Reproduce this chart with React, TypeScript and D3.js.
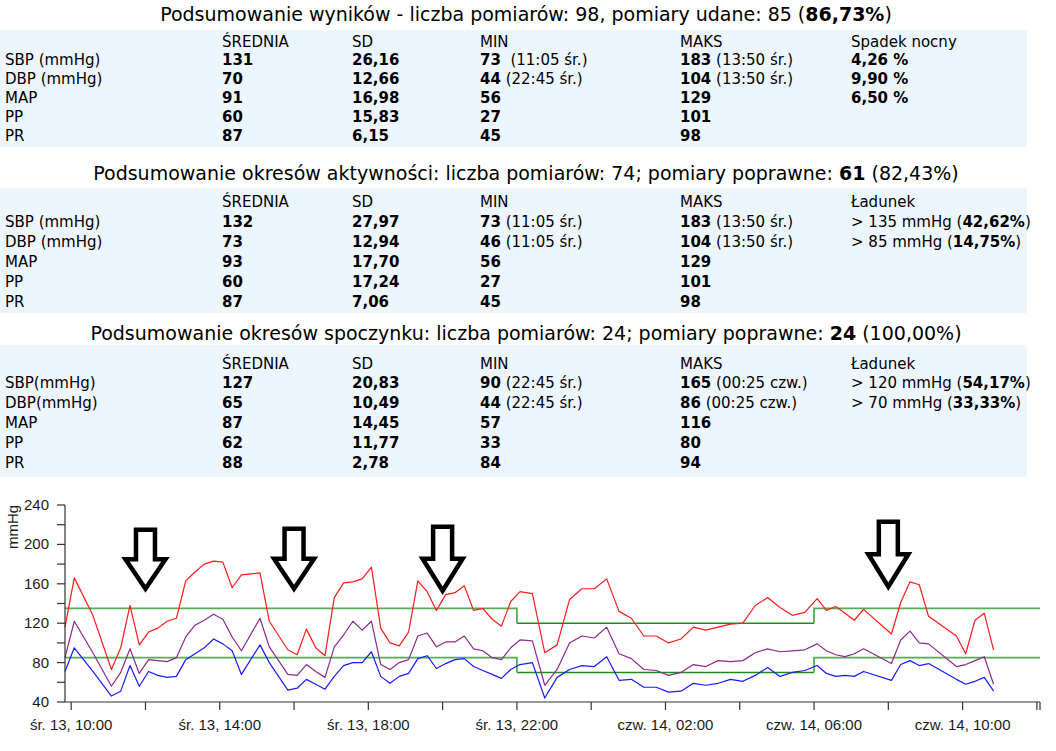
import React from "react";
import * as d3 from "d3";

// ---------- summary tables ----------
const title1 = ["Podsumowanie wyników - liczba pomiarów: 98, pomiary udane: 85 (", "86,73%", ")"];
const title2 = ["Podsumowanie okresów aktywności: liczba pomiarów: 74; pomiary poprawne: ", "61", " (82,43%)"];
const title3 = ["Podsumowanie okresów spoczynku: liczba pomiarów: 24; pomiary poprawne: ", "24", " (100,00%)"];

const header1 = ["", "ŚREDNIA", "SD", "MIN", "MAKS", "Spadek nocny"];
const header2 = ["", "ŚREDNIA", "SD", "MIN", "MAKS", "Ładunek"];

const rows1 = [
  ["SBP (mmHg)", "**131**", "**26,16**", "**73**  (11:05 śr.)", "**183** (13:50 śr.)", "**4,26 %**"],
  ["DBP (mmHg)", "**70**", "**12,66**", "**44** (22:45 śr.)", "**104** (13:50 śr.)", "**9,90 %**"],
  ["MAP", "**91**", "**16,98**", "**56**", "**129**", "**6,50 %**"],
  ["PP", "**60**", "**15,83**", "**27**", "**101**", ""],
  ["PR", "**87**", "**6,15**", "**45**", "**98**", ""],
];
const rows2 = [
  ["SBP (mmHg)", "**132**", "**27,97**", "**73** (11:05 śr.)", "**183** (13:50 śr.)", "> 135 mmHg (**42,62%**)"],
  ["DBP (mmHg)", "**73**", "**12,94**", "**46** (11:05 śr.)", "**104** (13:50 śr.)", "> 85 mmHg (**14,75%**)"],
  ["MAP", "**93**", "**17,70**", "**56**", "**129**", ""],
  ["PP", "**60**", "**17,24**", "**27**", "**101**", ""],
  ["PR", "**87**", "**7,06**", "**45**", "**98**", ""],
];
const rows3 = [
  ["SBP(mmHg)", "**127**", "**20,83**", "**90** (22:45 śr.)", "**165** (00:25 czw.)", "> 120 mmHg (**54,17%**)"],
  ["DBP(mmHg)", "**65**", "**10,49**", "**44** (22:45 śr.)", "**86** (00:25 czw.)", "> 70 mmHg (**33,33%**)"],
  ["MAP", "**87**", "**14,45**", "**57**", "**116**", ""],
  ["PP", "**62**", "**11,77**", "**33**", "**80**", ""],
  ["PR", "**88**", "**2,78**", "**84**", "**94**", ""],
];

// ---------- measurements ----------
const measurementTimes = [
  "2018-06-13 09:50", "2018-06-13 10:05", "2018-06-13 10:35", "2018-06-13 11:05", "2018-06-13 11:20",
  "2018-06-13 11:35", "2018-06-13 11:50", "2018-06-13 12:05", "2018-06-13 12:20", "2018-06-13 12:35",
  "2018-06-13 12:50", "2018-06-13 13:05", "2018-06-13 13:20", "2018-06-13 13:35", "2018-06-13 13:50",
  "2018-06-13 14:05", "2018-06-13 14:20", "2018-06-13 14:35", "2018-06-13 15:05", "2018-06-13 15:20",
  "2018-06-13 15:50", "2018-06-13 16:05", "2018-06-13 16:20", "2018-06-13 16:35", "2018-06-13 16:50",
  "2018-06-13 17:05", "2018-06-13 17:20", "2018-06-13 17:35", "2018-06-13 17:50", "2018-06-13 18:05",
  "2018-06-13 18:20", "2018-06-13 18:35", "2018-06-13 18:50", "2018-06-13 19:05", "2018-06-13 19:20",
  "2018-06-13 19:35", "2018-06-13 19:50", "2018-06-13 20:05", "2018-06-13 20:20", "2018-06-13 20:35",
  "2018-06-13 20:50", "2018-06-13 21:05", "2018-06-13 21:20", "2018-06-13 21:35", "2018-06-13 21:50",
  "2018-06-13 22:05", "2018-06-13 22:25", "2018-06-13 22:45", "2018-06-13 23:05", "2018-06-13 23:25",
  "2018-06-13 23:45", "2018-06-14 00:05", "2018-06-14 00:25", "2018-06-14 00:45", "2018-06-14 01:05",
  "2018-06-14 01:25", "2018-06-14 01:45", "2018-06-14 02:05", "2018-06-14 02:25", "2018-06-14 02:45",
  "2018-06-14 03:05", "2018-06-14 03:25", "2018-06-14 03:45", "2018-06-14 04:05", "2018-06-14 04:25",
  "2018-06-14 04:45", "2018-06-14 05:05", "2018-06-14 05:25", "2018-06-14 05:45",
  "2018-06-14 06:05", "2018-06-14 06:20", "2018-06-14 06:35", "2018-06-14 06:50", "2018-06-14 07:05",
  "2018-06-14 07:20", "2018-06-14 08:05", "2018-06-14 08:20", "2018-06-14 08:35", "2018-06-14 08:50",
  "2018-06-14 09:05", "2018-06-14 09:50", "2018-06-14 10:05", "2018-06-14 10:20", "2018-06-14 10:35",
  "2018-06-14 10:50",
];
const sbpValues = [
  116, 166, 128, 73, 95, 138, 98, 111, 115, 122, 125, 163, 172, 180, 183, 182, 156, 169, 171, 122,
  93, 88, 114, 95, 87, 146, 161, 162, 165, 177, 115, 100, 97, 111, 163, 152, 133, 149, 151, 158,
  133, 135, 124, 117, 142,
  152, 150, 90, 98, 144, 155, 155, 165, 132, 125, 107, 107, 100, 104, 116, 113, 116, 119, 120, 138,
  146, 136, 128, 131,
  145, 133, 137, 130, 123, 134, 109, 141, 162, 159, 127, 107, 89, 123, 130, 93,
];
const mapValues = [
  85, 122, 90, 56, 70, 94, 69, 83, 82, 81, 85, 106, 118, 123, 129, 124, 106, 92, 125, 96,
  68, 67, 78, 71, 65, 96, 108, 122, 113, 122, 78, 73, 80, 83, 107, 110, 96, 101, 101, 107,
  94, 92, 85, 83, 95,
  103, 102, 57, 73, 100, 107, 105, 116, 89, 84, 73, 72, 67, 70, 78, 76, 82, 81, 82, 90,
  94, 91, 92, 93,
  99, 92, 88, 86, 89, 94, 79, 103, 112, 100, 99, 76, 78, 82, 86, 58,
];
const dbpValues = [
  71, 95, 71, 46, 51, 77, 56, 71, 67, 65, 66, 83, 89, 95, 104, 99, 92, 68, 98, 80,
  52, 54, 63, 58, 53, 66, 77, 80, 80, 91, 66, 59, 66, 69, 84, 87, 74, 79, 83, 84,
  76, 72, 68, 64, 73,
  78, 80, 44, 65, 73, 77, 76, 86, 62, 63, 55, 55, 50, 51, 59, 57, 59, 63, 61, 67,
  75, 66, 70, 72,
  77, 69, 66, 67, 66, 71, 62, 78, 82, 77, 79, 63, 58, 61, 65, 51,
];

// ---------- limits (day / night) ----------
const periodStarts = ["2018-06-13 09:50", "2018-06-13 22:00", "2018-06-14 06:00"];
const periodEnds = ["2018-06-13 22:00", "2018-06-14 06:00", "2018-06-14 12:05"];
const periodIsNight = [false, true, false];
const sbpLimits = [135, 120, 135];
const dbpLimits = [85, 70, 85];

// ---------- arrows ----------
const arrowTimes = ["2018-06-13 12:00", "2018-06-13 16:00", "2018-06-13 20:00", "2018-06-14 08:00"];
const arrowTopValues = [215, 216, 218, 223];
const arrowTipValues = [155, 155, 153, 157];

// ---------- axes ----------
const xDomain = ["2018-06-13 09:50", "2018-06-14 12:05"];
const yDomain = [40, 240];
const dayAbbr = ["niedz.", "pon.", "wt.", "śr.", "czw.", "pt.", "sob."];

const parseTime = d3.timeParse("%Y-%m-%d %H:%M");
const fmtHM = d3.timeFormat("%H:%M");

function RichText({ x, y, text, size }: { x: number; y: number; text: string; size: number }) {
  const parts = text.split("**");
  return (
    <text x={x} y={y} fontSize={size} style={{ whiteSpace: "pre" }} fill="#000">
      {parts.map((p, i) =>
        p ? (
          <tspan key={i} fontWeight={i % 2 === 1 ? "bold" : "normal"}>
            {p}
          </tspan>
        ) : null
      )}
    </text>
  );
}

const colX = [5, 222, 352, 480, 680, 851];

function SummaryBlock({
  titleY, bgTop, bgBottom, headerY, step, title, header, rows,
}: {
  titleY: number; bgTop: number; bgBottom: number; headerY: number; step: number;
  title: string[]; header: string[]; rows: string[][];
}) {
  return (
    <g>
      <text x={526} y={titleY} fontSize={19} textAnchor="middle" fill="#000" style={{ whiteSpace: "pre" }}>
        <tspan>{title[0]}</tspan>
        <tspan fontWeight="bold">{title[1]}</tspan>
        <tspan>{title[2]}</tspan>
      </text>
      <rect x={0} y={bgTop} width={1027} height={bgBottom - bgTop} fill="#eef6fd" />
      {header.map((h, i) => (
        <text key={i} x={colX[i]} y={headerY} fontSize={15} fill="#000">
          {h}
        </text>
      ))}
      {rows.map((r, ri) =>
        r.map((c, ci) => <RichText key={ri + "-" + ci} x={colX[ci]} y={headerY + step * (ri + 1)} text={c} size={15} />)
      )}
    </g>
  );
}

export default function App() {
  const W = 1056;
  const H = 751;
  const left = 65;
  const right = 1040;
  const top = 505;
  const bottom = 702;

  const x = d3.scaleTime().domain(xDomain.map((d) => parseTime(d) as Date)).range([left, right]);
  const y = d3.scaleLinear().domain(yDomain).range([bottom, top]);

  const dates = measurementTimes.map((t) => parseTime(t) as Date);
  const line = d3
    .line<number>()
    .x((_, i) => x(dates[i]))
    .y((v) => y(v));

  const series = [
    { values: sbpValues, color: "#ff1a1a" },
    { values: mapValues, color: "#8e2a8e" },
    { values: dbpValues, color: "#1a1aff" },
  ];

  const limitPaths: { d: string; night: boolean }[] = [];
  const limLine = d3
    .line<[Date, number]>()
    .x((p) => x(p[0]))
    .y((p) => y(p[1]));
  [sbpLimits, dbpLimits].forEach((lims) => {
    periodStarts.forEach((s, i) => {
      const sd = parseTime(s) as Date;
      const ed = parseTime(periodEnds[i]) as Date;
      const pts: [Date, number][] = [];
      if (!periodIsNight[i]) {
        if (i > 0) pts.push([sd, lims[i - 1]]);
        pts.push([sd, lims[i]]);
        pts.push([ed, lims[i]]);
        if (i < periodStarts.length - 1) pts.push([ed, lims[i + 1]]);
      } else {
        pts.push([sd, lims[i]]);
        pts.push([ed, lims[i]]);
      }
      limitPaths.push({ d: limLine(pts) as string, night: periodIsNight[i] });
    });
  });

  const xTicks = x.ticks(d3.timeHour.every(2) as any);
  const yTicks = d3.range(yDomain[0], yDomain[1] + 1, 20);

  const fmtX = (d: Date) => `${dayAbbr[d.getDay()]} ${d.getDate()}, ${fmtHM(d)}`;

  const arrows = arrowTimes.map((t, i) => {
    const cx = x(parseTime(t) as Date);
    const yt = y(arrowTopValues[i]);
    const yp = y(arrowTipValues[i]);
    const ym = (yt + yp) / 2;
    const hw = 9.5;
    const hh = 20;
    return `M${cx - hw},${yt}L${cx + hw},${yt}L${cx + hw},${ym}L${cx + hh},${ym}L${cx},${yp}L${cx - hh},${ym}L${cx - hw},${ym}Z`;
  });

  const chartFont = "'Liberation Sans', Arial, sans-serif";
  const axisColor = "#333";

  return (
    <svg
      width={W}
      height={H}
      style={{ position: "absolute", left: 0, top: 0, background: "#fff" }}
      fontFamily="'DejaVu Sans', Verdana, sans-serif"
    >
      <rect x={0} y={0} width={W} height={H} fill="#fff" />
      <SummaryBlock titleY={21} bgTop={30} bgBottom={147} headerY={46.5} step={18.8} title={title1} header={header1} rows={rows1} />
      <SummaryBlock titleY={180} bgTop={188} bgBottom={313} headerY={206.5} step={20} title={title2} header={header2} rows={rows2} />
      <SummaryBlock titleY={340} bgTop={345} bgBottom={477} headerY={368.5} step={19.8} title={title3} header={header2} rows={rows3} />

      <g fontFamily={chartFont}>
        {limitPaths
          .filter((p) => p.night)
          .map((p, i) => (
            <path key={"n" + i} d={p.d} fill="none" stroke="#1e8c1e" strokeWidth={1.5} />
          ))}
        {limitPaths
          .filter((p) => !p.night)
          .map((p, i) => (
            <path key={"d" + i} d={p.d} fill="none" stroke="#55ad55" strokeWidth={1.8} />
          ))}
        {series.map((s, i) => (
          <path key={i} d={line(s.values) as string} fill="none" stroke={s.color} strokeWidth={1.2} strokeLinejoin="round" />
        ))}
        {arrows.map((d, i) => (
          <path key={i} d={d} fill="none" stroke="#000" strokeWidth={4.5} strokeLinejoin="miter" />
        ))}

        <line x1={left} x2={left} y1={y(yDomain[1])} y2={bottom} stroke={axisColor} strokeWidth={1.2} />
        {yTicks.map((t) => (
          <g key={t}>
            <line x1={left - 8} x2={left} y1={y(t)} y2={y(t)} stroke={axisColor} strokeWidth={1.2} />
            {t % 40 === 0 ? (
              <text x={left - 16} y={y(t) + 5} fontSize={15} textAnchor="end" fill="#1a1a1a">
                {t}
              </text>
            ) : null}
          </g>
        ))}
        <text transform={`translate(18,527) rotate(-90)`} fontSize={15} textAnchor="middle" fill="#1a1a1a">
          mmHg
        </text>

        <line x1={left} x2={right} y1={bottom} y2={bottom} stroke={axisColor} strokeWidth={1.2} />
        {xTicks.map((t, i) => (
          <g key={i}>
            <line x1={x(t)} x2={x(t)} y1={bottom} y2={bottom + 8} stroke={axisColor} strokeWidth={1.2} />
            {t.getHours() % 4 === 2 ? (
              <text x={x(t)} y={bottom + 28} fontSize={15} textAnchor="middle" fill="#1a1a1a">
                {fmtX(t)}
              </text>
            ) : null}
          </g>
        ))}
        <line x1={right} x2={right} y1={bottom} y2={bottom + 8} stroke={axisColor} strokeWidth={1.2} />
      </g>
    </svg>
  );
}
